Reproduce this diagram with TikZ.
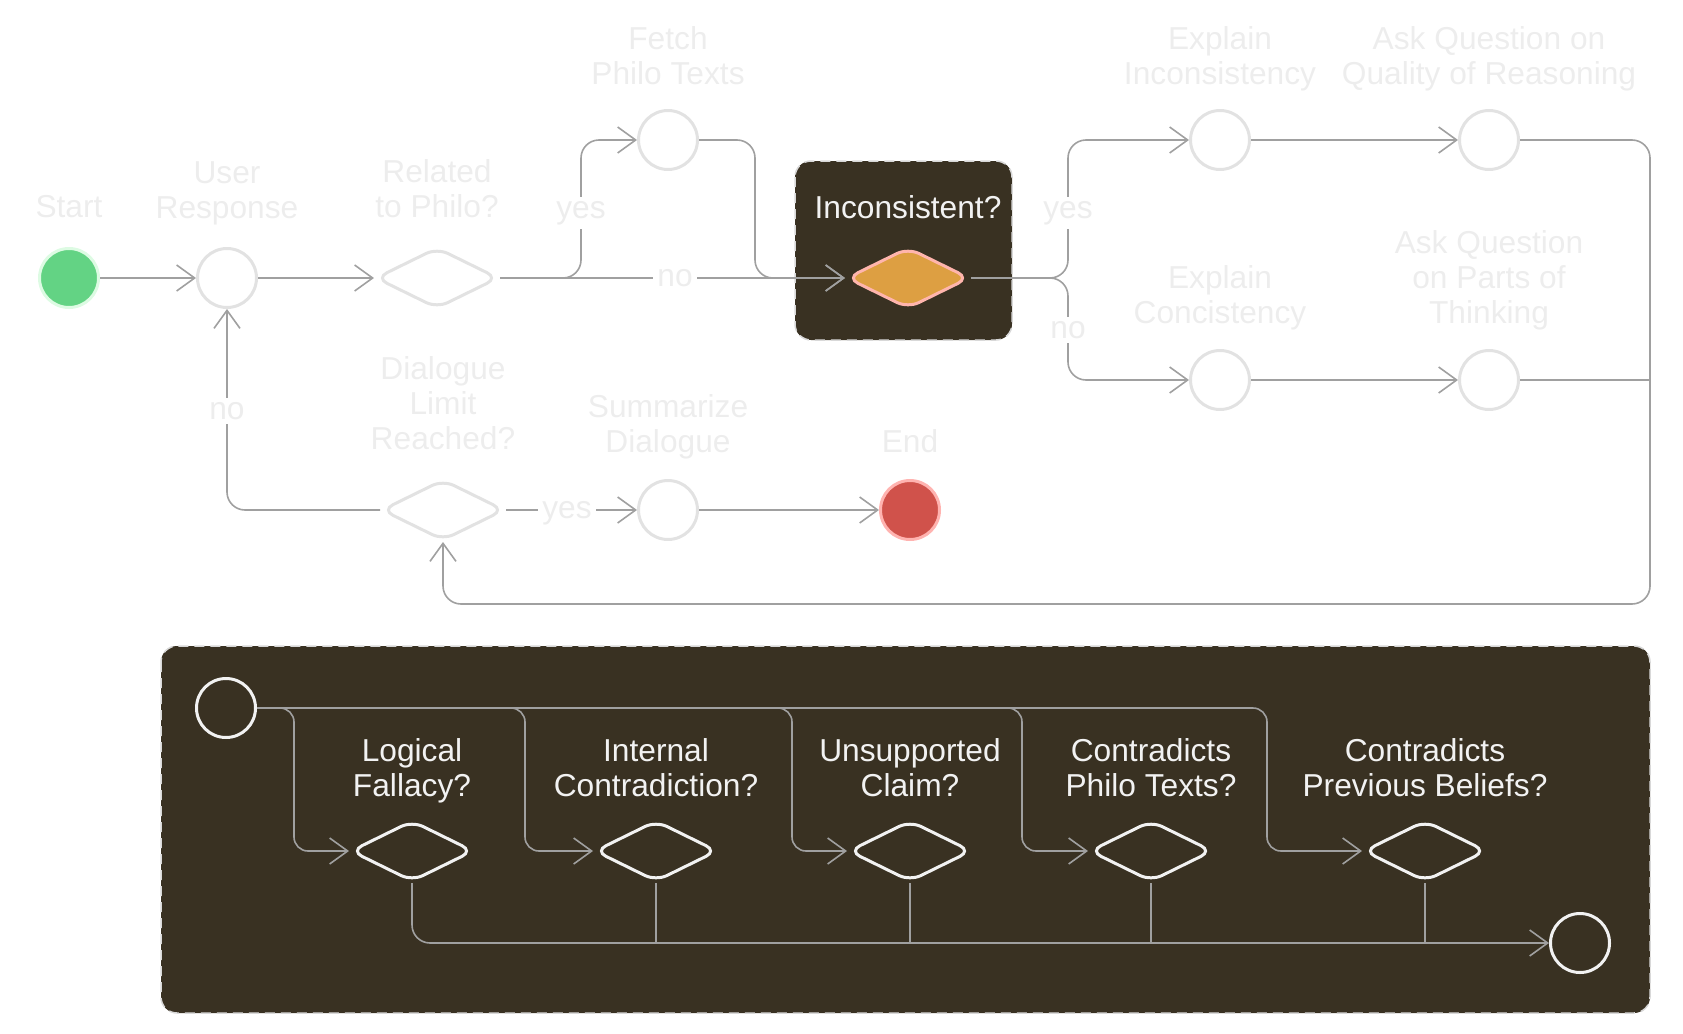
\documentclass[tikz,border=0pt]{standalone}
\usepackage{fontspec}
\setmainfont{Liberation Sans}
\usetikzlibrary{shapes.geometric,arrows.meta}
\definecolor{linegray}{HTML}{A0A0A0}
\definecolor{circgray}{HTML}{E2E2E2}
\definecolor{txtgray}{HTML}{EDEDED}
\definecolor{darkbg}{HTML}{393122}
\definecolor{dashgray}{HTML}{D8D8D8}
\definecolor{startgreen}{HTML}{63D384}
\definecolor{startring}{HTML}{DDFBE3}
\definecolor{endred}{HTML}{D0524B}
\definecolor{endring}{HTML}{FFB3B0}
\definecolor{orangefill}{HTML}{DD9F42}
\definecolor{pinkring}{HTML}{FFB5AD}
\definecolor{whiteish}{HTML}{F2F2F2}
\tikzset{
  conn/.style={draw=linegray, line width=1.6pt, rounded corners=18pt},
  arr/.style={-{Straight Barb[length=18pt,width=26pt]}},
  lcircle/.style={circle, draw=circgray, line width=3pt, fill=white, minimum size=59pt, inner sep=0pt},
  ldiamond/.style={diamond, draw=circgray, line width=3pt, fill=white, minimum width=123pt, minimum height=61pt, inner sep=0pt, rounded corners=12pt},
  dcircle/.style={circle, draw=whiteish, line width=3pt, fill=darkbg, minimum size=59pt, inner sep=0pt},
  ddiamond/.style={diamond, draw=whiteish, line width=3pt, fill=darkbg, minimum width=123pt, minimum height=61pt, inner sep=0pt, rounded corners=12pt},
  ttext/.style={text=txtgray, align=center, inner sep=0pt, font=\fontsize{31.7}{35}\selectfont},
  wtext/.style={text=whiteish, align=center, inner sep=0pt, font=\fontsize{31.7}{35}\selectfont},
  elabel/.style={fill=white, text=txtgray, inner sep=4pt, font=\fontsize{31.7}{35}\selectfont},
  darkbox/.style={fill=darkbg, draw=dashgray, line width=1.5pt, dash pattern=on 10pt off 6pt, rounded corners=16pt}
}
\begin{document}
\begin{tikzpicture}[x=1pt,y=-1pt]
\useasboundingbox (0,0) rectangle (1683,1033);
% dark boxes
\path[darkbox] (795,161) rectangle (1012,340);
\path[darkbox] (161,646) rectangle (1650,1013);

% top row nodes
\node[circle, fill=startgreen, draw=startring, line width=3pt, minimum size=59pt, inner sep=0pt] (start) at (69,278) {};
\node[lcircle] (user) at (227,278) {};
\node[ldiamond] (rel) at (437,278) {};
\node[lcircle] (fetch) at (668,140) {};
\node[diamond, fill=orangefill, draw=pinkring, line width=3pt, minimum width=123pt, minimum height=61pt, inner sep=0pt, rounded corners=12pt] (inc) at (908,278) {};
\node[lcircle] (expi) at (1220,140) {};
\node[lcircle] (askq) at (1489,140) {};
\node[lcircle] (expc) at (1220,380) {};
\node[lcircle] (askp) at (1489,380) {};
\node[ldiamond] (dial) at (443,510) {};
\node[lcircle] (summ) at (668,510) {};
\node[circle, fill=endred, draw=endring, line width=3pt, minimum size=59pt, inner sep=0pt] (end) at (910,510) {};

% top labels
\node[ttext] (tstart) at (69,207) {Start};
\node[ttext] (tuser) at (227,193) {User\\Response};
\node[ttext] (trel) at (437,189) {Related\\to Philo?};
\node[ttext] (tfetch) at (668,56) {Fetch\\Philo Texts};
\node[wtext] (tinc) at (908,207) {Inconsistent?};
\node[ttext] (texpi) at (1220,59) {Explain\\Inconsistency};
\node[ttext] (taskq) at (1489,59) {Ask Question on\\Quality of Reasoning};
\node[ttext] (texpc) at (1220,298) {Explain\\Concistency};
\node[ttext] (taskp) at (1489,280) {Ask Question\\on Parts of\\Thinking};
\node[ttext] (tdial) at (443,403) {Dialogue\\Limit\\Reached?};
\node[ttext] (tsumm) at (668,427) {Summarize\\Dialogue};
\node[ttext] (tend) at (910,441) {End};

% top connectors
\draw[conn,arr] (start) -- (user);
\draw[conn,arr] (user) -- (rel);
\draw[conn,arr] (rel.east) -- (581,278) -- (581,140) -- (fetch.west);
\draw[conn,arr] (fetch.east) -- (755,140) -- (755,278) -- (inc.west);
\draw[conn,arr] (rel.east) -- (inc.west);
\draw[conn,arr] (inc.east) -- (1068,278) -- (1068,140) -- (expi.west);
\draw[conn,arr] (inc.east) -- (1068,278) -- (1068,380) -- (expc.west);
\draw[conn,arr] (expi) -- (askq);
\draw[conn,arr] (expc) -- (askp);
\draw[conn,arr] (askq.east) -- (1650,140) -- (1650,604) -- (443,604) -- (dial.south);
\draw[conn] (askp.east) -- (1650,380);
\draw[conn,arr] (dial.west) -- (227,510) -- (user.south);
\draw[conn,arr] (dial) -- (summ);
\draw[conn,arr] (summ) -- (end);

% edge labels
\node[elabel] (lyes1) at (581,213) {yes};
\node[elabel] (lno1) at (675,278) {no};
\node[elabel] (lyes2) at (1068,213) {yes};
\node[elabel] (lno2) at (1068,330) {no};
\node[elabel] (lno3) at (227,411) {no};
\node[elabel] (lyes3) at (567,513) {yes};

% bottom box
\node[dcircle] (bs) at (226,708) {};
\node[dcircle] (be) at (1580,943) {};
\node[ddiamond] (d1) at (412,851) {};
\node[ddiamond] (d2) at (656,851) {};
\node[ddiamond] (d3) at (910,851) {};
\node[ddiamond] (d4) at (1151,851) {};
\node[ddiamond] (d5) at (1425,851) {};
\node[wtext] (t1) at (412,771) {Logical\\Fallacy?};
\node[wtext] (t2) at (656,768) {Internal\\Contradiction?};
\node[wtext] (t3) at (910,768) {Unsupported\\Claim?};
\node[wtext] (t4) at (1151,768) {Contradicts\\Philo Texts?};
\node[wtext] (t5) at (1425,768) {Contradicts\\Previous Beliefs?};

\draw[conn,arr,rounded corners=14pt] (bs.east) -- (294,708) -- (294,851) -- (d1.west);
\draw[conn,arr,rounded corners=14pt] (bs.east) -- (525,708) -- (525,851) -- (d2.west);
\draw[conn,arr,rounded corners=14pt] (bs.east) -- (792,708) -- (792,851) -- (d3.west);
\draw[conn,arr,rounded corners=14pt] (bs.east) -- (1022,708) -- (1022,851) -- (d4.west);
\draw[conn,arr,rounded corners=14pt] (bs.east) -- (1267,708) -- (1267,851) -- (d5.west);
\draw[conn,arr] (d1.south) -- (412,943) -- (be.west);
\draw[conn] (d2.south) -- (656,943);
\draw[conn] (d3.south) -- (910,943);
\draw[conn] (d4.south) -- (1151,943);
\draw[conn] (d5.south) -- (1425,943);
\end{tikzpicture}
\end{document}
